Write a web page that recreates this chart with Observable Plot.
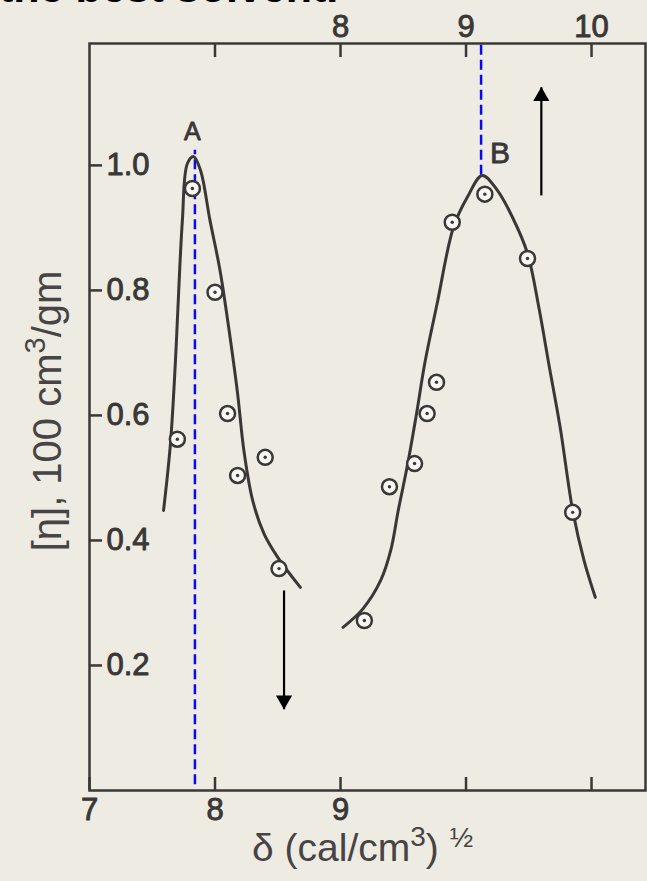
<!DOCTYPE html>
<html><head><meta charset="utf-8">
<script src="https://cdn.jsdelivr.net/npm/d3@7"></script>
<script src="https://cdn.jsdelivr.net/npm/@observablehq/plot@0.6"></script>
<style>
html,body{margin:0;padding:0;background:#edebe2;width:647px;height:881px;overflow:hidden;position:relative}
#chart{position:absolute;left:0;top:0}
#title{position:absolute;left:-1px;top:-34px;font:bold 43px "Liberation Sans",Arial,sans-serif;color:#000;white-space:nowrap;line-height:1}
#chart svg g[aria-label$="tick label"] text{stroke:#3a3737;stroke-width:0.9px}
</style></head><body>
<div id="chart"></div>
<div id="title">the best solvent.</div>
<script>
// ---- Curve A (bottom δ scale) ----
const curveAx = [7.59, 7.645, 7.685, 7.70, 7.74, 7.78, 7.83, 7.885, 7.96, 8.04, 8.12, 8.18, 8.23, 8.30, 8.39, 8.50, 8.68];
const curveAy = [0.448, 0.555, 0.688, 0.752, 0.912, 1.003, 1.014, 0.992, 0.912, 0.832, 0.725, 0.635, 0.544, 0.464, 0.411, 0.373, 0.325];
const pointsAx = [7.70, 7.82, 8.00, 8.10, 8.18, 8.40, 8.51];
const pointsAy = [0.562, 0.963, 0.797, 0.603, 0.504, 0.533, 0.355];

// ---- Curve B (top δ scale) ----
const curveBx = [8.02, 8.18, 8.32, 8.40, 8.46, 8.53, 8.61, 8.67, 8.77, 8.90, 9.01, 9.13, 9.25, 9.37, 9.49, 9.58, 9.66, 9.75, 9.85, 9.94, 10.03];
const curveBy = [0.261, 0.291, 0.336, 0.384, 0.448, 0.517, 0.608, 0.682, 0.779, 0.901, 0.949, 0.984, 0.960, 0.917, 0.859, 0.773, 0.682, 0.581, 0.448, 0.368, 0.309];
const pointsBx = [8.19, 8.39, 8.59, 8.69, 8.765, 8.89, 9.15, 9.49, 9.85];
const pointsBy = [0.272, 0.486, 0.523, 0.603, 0.653, 0.909, 0.954, 0.851, 0.445];

// ---- Axes ----
const TOP_OFFSET = 1;            // top scale value + 1 = bottom scale value
const bottomTicks = [7, 8, 9, 10, 11];
const bottomLabels = [7, 8, 9];
const topTicks = [7, 8, 9, 10];
const topLabels = [8, 9, 10];
const yTicks = [0.2, 0.4, 0.6, 0.8, 1.0];
const xDomain = [7, 11.43];
const yDomain = [0, 1.195];

// ---- Annotations ----
const peaks = [{name: "A", scale: "bottom", x: 7.84, yFrom: 0.01, yTo: 1.025, labelY: 1.053, labelX: 7.82, size: 25},
               {name: "B", scale: "top", x: 9.12, yFrom: 0.985, yTo: 1.195, labelY: 1.02, labelX: 9.27, size: 30}];
const arrows = [{scale: "bottom", x: 8.55, yFrom: 0.32, yTo: 0.13, dir: "down"},
                {scale: "top", x: 9.60, yFrom: 0.952, yTo: 1.125, dir: "up"}];

const xLabel = "δ (cal/cm³) ½";
const yLabel = "[η], 100 cm³/gm";

const toBottom = (scale, x) => scale === "top" ? x + TOP_OFFSET : x;
const lineA = curveAx.map((x, i) => ({x, y: curveAy[i]}));
const lineB = curveBx.map((x, i) => ({x: x + TOP_OFFSET, y: curveBy[i]}));
const pts = [...pointsAx.map((x, i) => ({x, y: pointsAy[i]})),
             ...pointsBx.map((x, i) => ({x: x + TOP_OFFSET, y: pointsBy[i]}))];

const ink = "#3a3737";
const sans = "'Liberation Sans',Arial,sans-serif";
const arrowDown = arrows.filter(d => d.dir === "down");
const arrowUp = arrows.filter(d => d.dir === "up");

const chart = Plot.plot({
  width: 647, height: 881,
  marginLeft: 89, marginRight: 2, marginTop: 43, marginBottom: 91,
  x: {domain: xDomain},
  y: {domain: yDomain},
  style: {background: "transparent", color: ink},
  marks: [
    // blue dashed guide lines
    Plot.link(peaks, {x1: d => toBottom(d.scale, d.x), x2: d => toBottom(d.scale, d.x), y1: "yFrom", y2: "yTo",
      stroke: "#0a0af0", strokeWidth: 2.5, strokeDasharray: "10,5"}),
    // curves
    Plot.line(lineA, {x: "x", y: "y", curve: "catmull-rom", stroke: ink, strokeWidth: 3}),
    Plot.line(lineB, {x: "x", y: "y", curve: "catmull-rom", stroke: ink, strokeWidth: 3}),
    // data points
    Plot.dot(pts, {x: "x", y: "y", r: 7.5, fill: "#f8f7f2", stroke: ink, strokeWidth: 2.5}),
    Plot.dot(pts, {x: "x", y: "y", r: 1.7, fill: ink}),
    // arrows
    Plot.link(arrows, {x1: d => toBottom(d.scale, d.x), x2: d => toBottom(d.scale, d.x), y1: "yFrom", y2: "yTo",
      stroke: "#000", strokeWidth: 2.2}),
    Plot.dot(arrowDown, {x: d => toBottom(d.scale, d.x), y: "yTo", symbol: "triangle", r: 6, fill: "#000", rotate: 180, dy: -9}),
    Plot.dot(arrowUp, {x: d => toBottom(d.scale, d.x), y: "yTo", symbol: "triangle", r: 6, fill: "#000", dy: 9}),
    // peak labels
    Plot.text(peaks, {x: d => toBottom(d.scale, d.labelX), y: "labelY", text: "name", fontSize: d => d.size,
      fontFamily: sans, fill: ink, stroke: ink, strokeWidth: 0.8}),
    // frame
    Plot.frame({stroke: ink, strokeWidth: 2.5}),
    // bottom axis ticks (inward) and labels
    Plot.axisX({anchor: "bottom", ticks: bottomTicks, tickSize: -13, tickFormat: () => "", strokeWidth: 2.5, label: null}),
    Plot.axisX({anchor: "bottom", ticks: bottomLabels, tickSize: 0, tickPadding: 7, fontSize: 31,
      tickFormat: d => String(d), fontFamily: sans, label: null}),
    // top axis ticks (inward) and labels
    Plot.axisX({anchor: "top", ticks: topTicks.map(t => t + TOP_OFFSET), tickSize: -13, tickFormat: () => "", strokeWidth: 2.5, label: null}),
    Plot.axisX({anchor: "top", ticks: topLabels.map(t => t + TOP_OFFSET), tickSize: 0, tickPadding: 7,
      tickFormat: d => String(Math.round(d - TOP_OFFSET)), fontSize: 31, fontFamily: sans, label: null}),
    // y axis ticks (inward) and labels inside frame
    Plot.axisY({anchor: "left", ticks: yTicks, tickSize: -13, tickFormat: () => "", strokeWidth: 2.5, label: null}),
    Plot.text(yTicks, {x: () => xDomain[0], y: d => d, text: d => d.toFixed(1), dx: 17, textAnchor: "start",
      fontSize: 31, fontFamily: sans, fill: ink, stroke: ink, strokeWidth: 0.9}),
    // axis titles
    Plot.text([xLabel], {frameAnchor: "bottom", text: d => d, dy: 70, dx: -5, textAnchor: "middle",
      fontSize: 39, fontFamily: sans, fill: "#464444"}),
    Plot.text([yLabel], {frameAnchor: "left", text: d => d, dx: -41, dy: -6, rotate: -90, textAnchor: "middle",
      fontSize: 40, fontFamily: sans, fill: "#464444"})
  ]
});
document.getElementById("chart").appendChild(chart);

// typographic superscripts in the axis titles
function rich(label, parts) {
  const el = [...chart.querySelectorAll("text")].find(t => t.textContent === label);
  if (!el) return;
  while (el.firstChild) el.removeChild(el.firstChild);
  for (const p of parts) {
    const ts = document.createElementNS("http://www.w3.org/2000/svg", "tspan");
    ts.textContent = p.t;
    if (p.dy) ts.setAttribute("dy", p.dy);
    if (p.fs) ts.setAttribute("font-size", p.fs);
    el.appendChild(ts);
  }
}
rich(xLabel, [{t: "δ (cal/cm"}, {t: "3", dy: -15, fs: 28}, {t: ")", dy: 15}, {t: " "}, {t: "½", dy: -14, fs: 28}]);
rich(yLabel, [{t: "[η], 100 cm"}, {t: "3", dy: -16, fs: 29}, {t: "/gm", dy: 16}]);
</script>
</body></html>
